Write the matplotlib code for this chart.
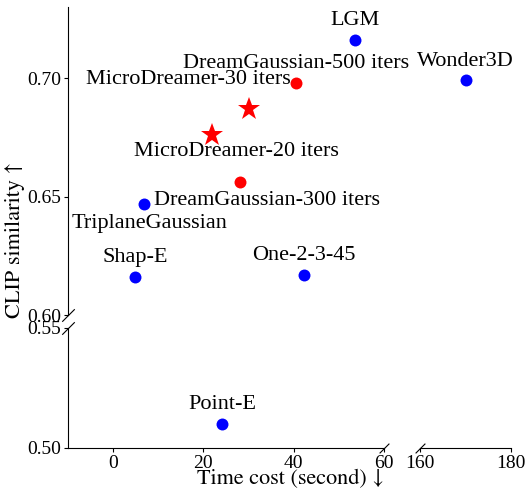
import numpy as np
import matplotlib
matplotlib.use('Agg')
import matplotlib.pylab as plt

plt.rcParams['font.family'] = ['Liberation Serif', 'STIXGeneral', 'DejaVu Serif']
plt.rcParams['font.size'] = 14

# data
methods = ['LGM', 'Wonder3D', 'DreamGaussian-500 iters', 'MicroDreamer-30 iters',
           'MicroDreamer-20 iters', 'DreamGaussian-300 iters', 'TriplaneGaussian',
           'Shap-E', 'One-2-3-45', 'Point-E']
times = [53.5, 170.0, 40.5, 30.0, 22.0, 28.2, 6.9, 4.9, 42.3, 24.2]
clips = [0.716, 0.699, 0.698, 0.687, 0.676, 0.656, 0.647, 0.616, 0.617, 0.510]
kinds = ['other', 'other', 'dg', 'ours', 'ours', 'dg', 'other', 'other', 'other', 'other']

# label offsets (points) relative to the marker
offsets = [(0, 14), (0, 14), (0, 14), (-43, 21), (17, -12), (19, -13),
           (4, -14), (0, 14), (0, 14), (0, 14)]

x_ticks_left = [0, 20, 40, 60]
x_ticks_right = [160, 180]
y_ticks_top = [0.60, 0.65, 0.70]
y_ticks_bottom = [0.50, 0.55]

fig = plt.figure(figsize=(5.25, 4.88), dpi=100)
x0, x1, x2, x3 = 68/525, 384/525, 420/525, 511/525
ya, yb, yc, yd = 1-448/488, 1-328/488, 1-315/488, 1-7/488
ax_tl = fig.add_axes([x0, yc, x1-x0, yd-yc])
ax_tr = fig.add_axes([x2, yc, x3-x2, yd-yc])
ax_bl = fig.add_axes([x0, ya, x1-x0, yb-ya])
ax_br = fig.add_axes([x2, ya, x3-x2, yb-ya])

for ax in [ax_tl, ax_tr, ax_bl, ax_br]:
    ax.patch.set_alpha(0)
    for s in ['top', 'right', 'left', 'bottom']:
        ax.spines[s].set_visible(False)
    ax.tick_params(length=3, width=0.8, pad=2, labelsize=14)

ax_tl.set_xlim(-10, 60); ax_bl.set_xlim(-10, 60)
ax_tr.set_xlim(160, 180); ax_br.set_xlim(160, 180)
ax_tl.set_ylim(0.60, 0.73); ax_tr.set_ylim(0.60, 0.73)
ax_bl.set_ylim(0.50, 0.55); ax_br.set_ylim(0.50, 0.55)

ax_tl.spines['left'].set_visible(True)
ax_bl.spines['left'].set_visible(True)
ax_bl.spines['bottom'].set_visible(True)
ax_br.spines['bottom'].set_visible(True)

ax_tl.set_xticks([]); ax_tr.set_xticks([])
ax_tr.set_yticks([]); ax_br.set_yticks([])
ax_tl.set_yticks(y_ticks_top)
ax_tl.set_yticklabels(['%.2f' % v for v in y_ticks_top])
ax_bl.set_yticks(y_ticks_bottom)
ax_bl.set_yticklabels(['%.2f' % v for v in y_ticks_bottom])
ax_bl.set_xticks(x_ticks_left)
ax_br.set_xticks(x_ticks_right)

COLORS = {'other': '#0000ff', 'dg': '#ff0000', 'ours': '#ff0000'}

for m, t, c, k, off in zip(methods, times, clips, kinds, offsets):
    if t > 100:
        ax = ax_tr if c >= 0.6 else ax_br
    else:
        ax = ax_tl if c >= 0.6 else ax_bl
    if k == 'ours':
        ax.plot(t, c, '*', color=COLORS[k], ms=17, mew=0, clip_on=False)
    else:
        ax.plot(t, c, 'o', color=COLORS[k], ms=8.6, mew=0, clip_on=False)
    ax.annotate(m, (t, c), xytext=off, textcoords='offset points',
                ha='center', va='center', fontsize=16, annotation_clip=False)

# break marks
kw = dict(marker=[(-1, -1), (1, 1)], markersize=9, linestyle='none',
          color='k', mec='k', mew=0.8, clip_on=False)
ax_tl.plot([0], [0], transform=ax_tl.transAxes, **kw)
ax_bl.plot([0], [1], transform=ax_bl.transAxes, **kw)
kw['markersize'] = 7
ax_bl.plot([1], [0], transform=ax_bl.transAxes, **kw)
ax_br.plot([0], [0], transform=ax_br.transAxes, **kw)

# axis labels (STIX for the long thin arrows)
fig.text(290/525, 1-479/488, 'Time cost (second) \u2193', ha='center', va='center',
         fontsize=16, family=['STIXGeneral', 'Liberation Serif'])
fig.text(15/525, 1-240/488, 'CLIP similarity \u2191', ha='center', va='center',
         rotation=90, fontsize=16, family=['STIXGeneral', 'Liberation Serif'])

fig.savefig('out.png', dpi=100)
